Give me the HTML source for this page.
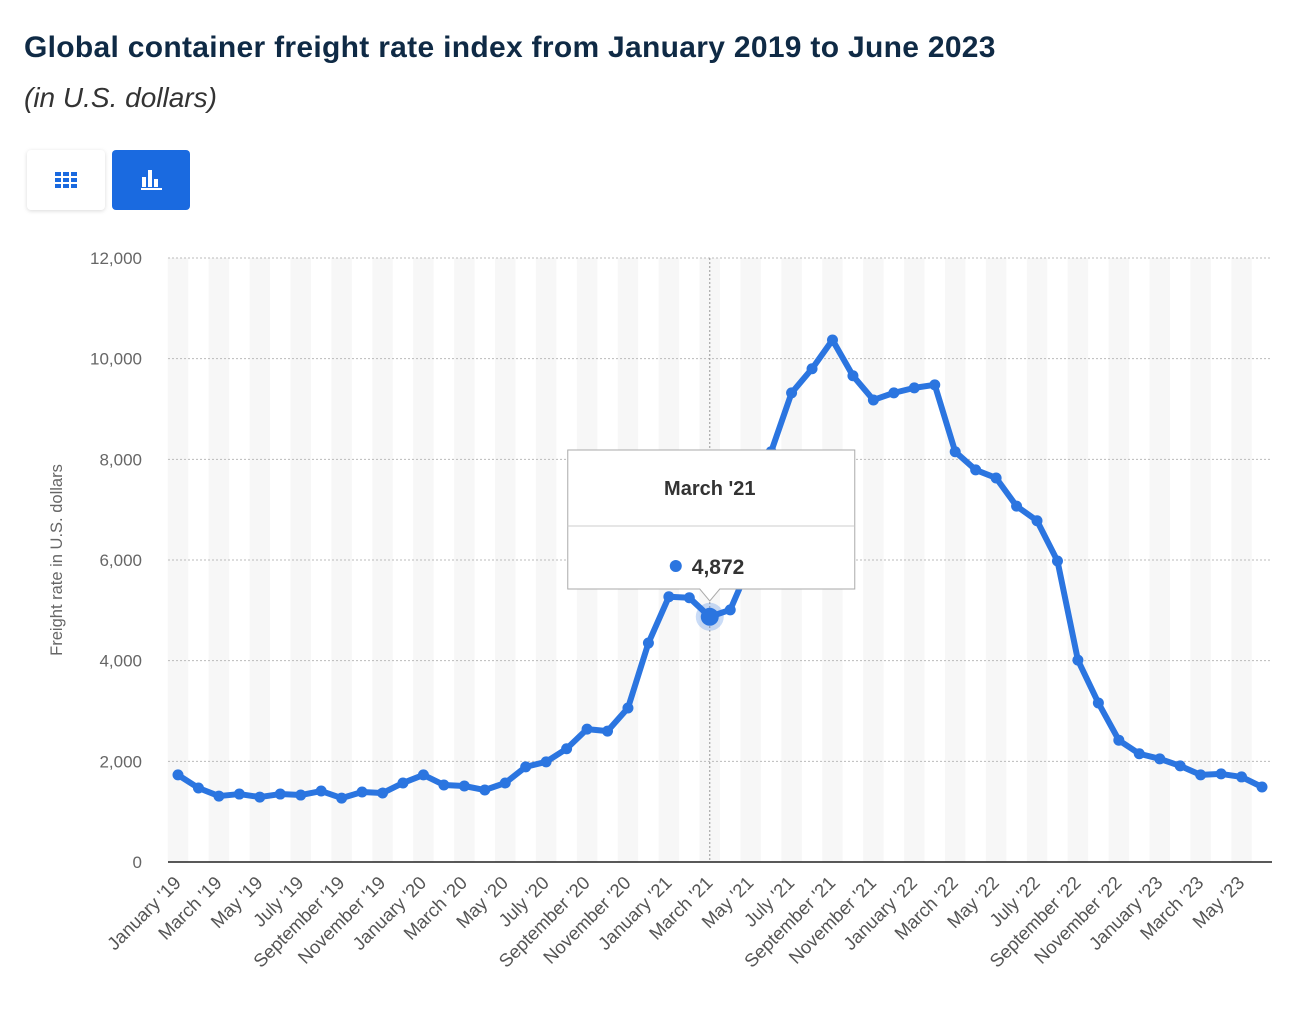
<!DOCTYPE html>
<html><head><meta charset="utf-8"><style>
body{margin:0;background:#fff;font-family:"Liberation Sans",sans-serif;width:1292px;height:1027px;overflow:hidden;position:relative}
h1{position:absolute;left:24px;top:31px;margin:0;font-size:30px;letter-spacing:0.3px;font-weight:bold;color:#0f2a45;white-space:nowrap}
.sub{position:absolute;left:24px;top:82px;font-size:28px;font-style:italic;color:#333}
.btn{position:absolute;top:150px;width:78px;height:60px;border-radius:4px}
</style></head><body>
<h1>Global container freight rate index from January 2019 to June 2023</h1>
<div class="sub">(in U.S. dollars)</div>
<div class="btn" style="left:27px;background:#fff;box-shadow:0 1px 4px rgba(0,0,0,.15)">
<svg width="78" height="60"><g fill="#1a6ae0"><rect x="28" y="22" width="6" height="4"/><rect x="36" y="22" width="6" height="4"/><rect x="44" y="22" width="6" height="4"/><rect x="28" y="28" width="6" height="4"/><rect x="36" y="28" width="6" height="4"/><rect x="44" y="28" width="6" height="4"/><rect x="28" y="34" width="6" height="4"/><rect x="36" y="34" width="6" height="4"/><rect x="44" y="34" width="6" height="4"/></g></svg></div>
<div class="btn" style="left:112px;background:#1a6ae0">
<svg width="78" height="60"><g fill="#fff"><rect x="30" y="27" width="4" height="10"/><rect x="36" y="20" width="4" height="17"/><rect x="42" y="29" width="4" height="8"/><rect x="29" y="38" width="21" height="2"/></g></svg></div>
<svg id="chart" width="1292" height="1027" style="position:absolute;left:0;top:0"></svg>
<script>
const months=["January","February","March","April","May","June","July","August","September","October","November","December"];
const values=[1730,1470,1310,1350,1290,1350,1330,1410,1270,1390,1370,1570,1730,1530,1510,1430,1570,1890,1990,2250,2640,2600,3060,4350,5270,5250,4872,5010,5950,8150,9320,9800,10370,9660,9180,9320,9420,9480,8150,7790,7630,7070,6780,5980,4010,3160,2420,2150,2050,1910,1730,1750,1690,1490];
const yTicks=[0,2000,4000,6000,8000,10000,12000];
const startYear=19;
const hoverIndex=26;
const NS="http://www.w3.org/2000/svg";
const svg=document.getElementById('chart');
const x0=178,x1=1262,yb=862,yt=258,left=168,right=1272;
const xs=i=>x0+i*(x1-x0)/(values.length-1);
const ys=v=>yb-(v/12000)*(yb-yt);
const label=i=>months[i%12]+" '"+(startYear+Math.floor(i/12));
function mk(t,a,p){const e=document.createElementNS(NS,t);for(const k in a)e.setAttribute(k,a[k]);(p||svg).appendChild(e);return e;}
const step=(x1-x0)/(values.length-1);
for(let i=0;i<values.length;i+=2){const b=mk('rect',{x:xs(i)-step/2,y:yt,width:step,height:yb-yt,fill:'#f7f7f7'});

}
yTicks.forEach(v=>{const y=ys(v);
if(v>0){const g=mk('line',{x1:left,x2:right,y1:y,y2:y,stroke:'#bbb','stroke-dasharray':'2,2'});

}
const t=mk('text',{x:142,y:y+6,'text-anchor':'end','font-size':17,fill:'#666'});t.textContent=v.toLocaleString('en-US');

});
const ax=mk('line',{x1:left,x2:right,y1:yb,y2:yb,stroke:'#222','stroke-width':1.5});


const yt2=mk('text',{transform:'translate(62,560) rotate(-90)','text-anchor':'middle','font-size':16.5,fill:'#666'});yt2.textContent='Freight rate in U.S. dollars';


for(let i=0;i<values.length;i+=2){const t=mk('text',{transform:`translate(${xs(i)+4},${yb+22}) rotate(-45)`,'text-anchor':'end','font-size':18.5,fill:'#555'});t.textContent=label(i);

}
const ch=mk('line',{x1:xs(hoverIndex),x2:xs(hoverIndex),y1:yt,y2:yb,stroke:'#999','stroke-dasharray':'2,2'});


const line=mk('polyline',{points:values.map((v,i)=>xs(i)+','+ys(v)).join(' '),fill:'none',stroke:'#2b75e0','stroke-width':6,'stroke-linejoin':'round'});


values.forEach((v,i)=>{const c=mk('circle',{cx:xs(i),cy:ys(v),r:5.5,fill:'#2b75e0'});

});
const hx=xs(hoverIndex),hy=ys(values[hoverIndex]);
const halo=mk('circle',{cx:hx,cy:hy,r:14,fill:'#2b75e0','fill-opacity':0.25});


mk('circle',{cx:hx,cy:hy,r:9,fill:'#2b75e0'});
const tg=mk('g',{});


const bx=hx-142,by=450,bw=287,bh=139;
mk('path',{d:`M${bx} ${by}h${bw}v${bh}H${hx+10}l-10 12l-10 -12H${bx}Z`,fill:'#fff',stroke:'#aaa'},tg);
mk('line',{x1:bx,x2:bx+bw,y1:by+76,y2:by+76,stroke:'#ccc'},tg);
const tt=mk('text',{x:hx,y:by+45,'text-anchor':'middle','font-size':20,'font-weight':'bold',fill:'#333'},tg);tt.textContent=label(hoverIndex);
mk('circle',{cx:hx-34,cy:by+116,r:6,fill:'#2b75e0'},tg);
const tv=mk('text',{x:hx-18,y:by+124,'font-size':21,'font-weight':'bold',fill:'#333'},tg);tv.textContent=values[hoverIndex].toLocaleString('en-US');
</script>
</body></html>
